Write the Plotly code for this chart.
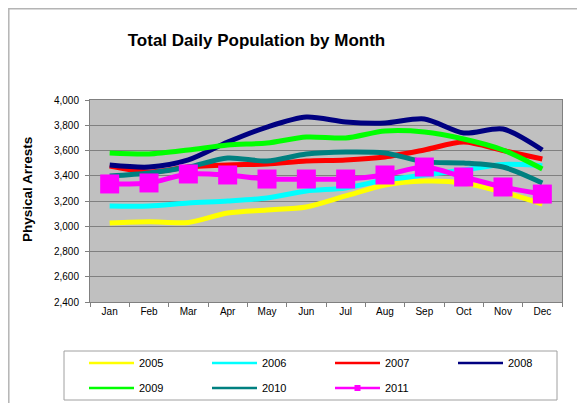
import plotly.graph_objects as go

months = ["Jan", "Feb", "Mar", "Apr", "May", "Jun", "Jul", "Aug", "Sep", "Oct", "Nov", "Dec"]

y2005 = [3025, 3035, 3030, 3105, 3129, 3153, 3240, 3327, 3358, 3343, 3271, 3176]
y2006 = [3160, 3160, 3184, 3200, 3224, 3279, 3303, 3366, 3406, 3446, 3490, 3480]
y2007 = [3477, 3430, 3469, 3485, 3493, 3517, 3525, 3549, 3604, 3667, 3600, 3533]
y2008 = [3485, 3469, 3525, 3667, 3786, 3865, 3826, 3818, 3850, 3739, 3770, 3604]
y2009 = [3580, 3572, 3604, 3644, 3659, 3707, 3699, 3754, 3746, 3691, 3604, 3453]
y2010 = [3398, 3422, 3469, 3541, 3517, 3572, 3588, 3580, 3510, 3501, 3469, 3343]
y2011 = [3335, 3343, 3414, 3406, 3374, 3374, 3374, 3406, 3469, 3390, 3311, 3255]

series = [
    ("2005", y2005, "#FFFF00"),
    ("2006", y2006, "#00FFFF"),
    ("2007", y2007, "#FF0000"),
    ("2008", y2008, "#000080"),
    ("2009", y2009, "#00FF00"),
    ("2010", y2010, "#008080"),
    ("2011", y2011, "#FF00FF"),
]

FONT = "Arial, Liberation Sans, sans-serif"
W, H = 585, 403
OFF = 8  # page body margin


def cx(px):
    return (px - OFF) / W


def cy(py):
    return 1 - (py - OFF) / H


def pxp(px):  # screenshot x -> paper x
    return (px - 90) / 472


def pyp(py):  # screenshot y -> paper y
    return (302 - py) / 202


fig = go.Figure()
for name, vals, color in series:
    is_last = name == "2011"
    fig.add_trace(go.Scatter(
        x=months, y=vals, name=name, showlegend=False,
        mode="lines+markers" if is_last else "lines",
        line=dict(color=color, width=5, shape="spline", smoothing=0.8),
        marker=dict(symbol="square", size=19, color=color) if is_last else None,
    ))

# legend entries (thin lines, small markers like the original), one legend per cell
col_x = [89, 212, 335, 458]
row_y = [363, 388]
legend_layouts = {}
for i, (name, vals, color) in enumerate(series):
    is_last = name == "2011"
    lid = "legend" if i == 0 else f"legend{i + 1}"
    fig.add_trace(go.Scatter(
        x=[None], y=[None], name=name,
        mode="lines+markers" if is_last else "lines",
        line=dict(color=color, width=2.5),
        marker=dict(symbol="square", size=6, color=color) if is_last else None,
        legend=lid,
    ))
    legend_layouts[lid] = dict(
        orientation="h", xref="container", yref="container",
        xanchor="left", yanchor="middle",
        x=cx(col_x[i % 4] - 5), y=cy(row_y[i // 4]),
        font=dict(family=FONT, size=11, color="#000000"),
        itemwidth=45,
        bgcolor="rgba(0,0,0,0)", borderwidth=0,
    )

fig.update_layout(
    width=W, height=H,
    margin=dict(l=82, r=31, t=92, b=109),
    paper_bgcolor="#FFFFFF",
    plot_bgcolor="#C0C0C0",
    font=dict(family=FONT, color="#000000"),
    title=dict(
        text="<b>Total Daily Population by Month</b>",
        font=dict(family=FONT, size=17, color="#000000"),
        x=cx(256.5), xanchor="center", xref="container",
        y=cy(40), yanchor="middle", yref="container",
    ),
    xaxis=dict(
        type="category", range=[-0.5, 11.5],
        showgrid=False, showline=True, linecolor="#808080", linewidth=1,
        mirror=True,
        ticks="outside", ticklen=4, tickcolor="#808080", tickson="boundaries",
        tickfont=dict(family=FONT, size=10, color="#000000"),
    ),
    yaxis=dict(
        range=[2400, 4000], dtick=200, tickformat=",d",
        showgrid=True, gridcolor="#808080", gridwidth=1,
        showline=True, linecolor="#808080", linewidth=1, mirror=True,
        ticks="outside", ticklen=4, tickcolor="#808080",
        ticklabelstandoff=4,
        tickfont=dict(family=FONT, size=10, color="#000000"),
        zeroline=False,
    ),
    annotations=[dict(
        text="<b>Physical Arrests</b>", textangle=-90,
        xref="paper", yref="paper",
        x=pxp(27), y=pyp(190),
        xanchor="center", yanchor="middle", showarrow=False,
        font=dict(family=FONT, size=13.5, color="#000000"),
    )],
    shapes=[
        # outer chart border
        dict(type="rect", xref="paper", yref="paper",
             x0=pxp(8.8), x1=pxp(620),
             y0=pyp(440), y1=pyp(8.8),
             line=dict(color="#B4B4B4", width=1.5), fillcolor="rgba(0,0,0,0)", layer="below"),
        # legend box
        dict(type="rect", xref="paper", yref="paper",
             x0=pxp(64), x1=pxp(557),
             y0=pyp(400), y1=pyp(351),
             line=dict(color="#A0A0A0", width=1), fillcolor="rgba(0,0,0,0)", layer="below"),
    ],
    **legend_layouts,
)

fig.write_html("out.html")
